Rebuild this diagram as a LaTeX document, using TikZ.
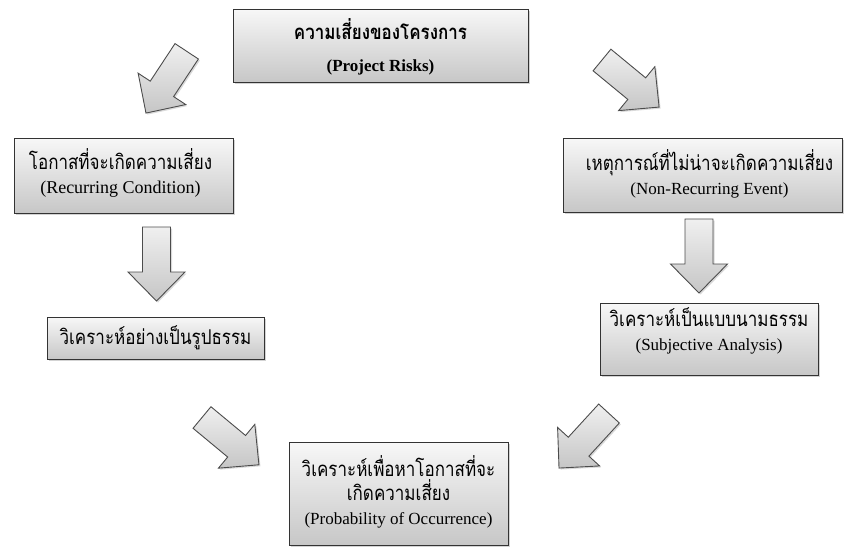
\documentclass[tikz,border=0pt]{standalone}
\usepackage{fontspec}
\usepackage{graphicx}
\setmainfont{Liberation Serif}
\newfontfamily\thaifont[Script=Thai]{Loma}
\newcommand\thtext[1]{{\thaifont\scalebox{1}[1.2]{#1}}}
\usetikzlibrary{shadows}
\begin{document}
\begin{tikzpicture}[x=1pt,y=-1pt,
  box/.style={draw=black!80, line width=1pt, top color=gray!6, bottom color=gray!44,
    drop shadow={opacity=0.35, shadow xshift=2pt, shadow yshift=-2pt}, inner sep=0pt},
  boxtext/.style={align=center, inner sep=0pt, font=\fontsize{17}{24}\selectfont},
  blockarrow/.pic={
    \path[draw=black!70, line width=0.9pt, line join=miter,
      top color=gray!12, bottom color=gray!45,
      drop shadow={opacity=0.3, shadow xshift=1.5pt, shadow yshift=-1.5pt}]
      (0,-14) -- (45,-14) -- (45,-28.5) -- (74,0) -- (45,28.5) -- (45,14) -- (0,14) -- cycle;}
]
\useasboundingbox (0,0) rectangle (845,547);

% boxes
\node[box, minimum width=295, minimum height=73] (risk) at (380.5,45.5) {};
\node[box, minimum width=219, minimum height=75] (recur) at (123.5,175.5) {};
\node[box, minimum width=279, minimum height=74] (nonrecur) at (702.5,175) {};
\node[box, minimum width=217, minimum height=42] (objective) at (155.5,338) {};
\node[box, minimum width=218, minimum height=72] (subjective) at (709,339) {};
\node[box, minimum width=219, minimum height=103] (prob) at (398.5,493.5) {};

% box labels
\node[boxtext] (riskText) at ([yshift=-1pt]risk.center)
  {\textbf{\thtext{\bfseries ความเสี่ยงของโครงการ}}\\[8pt]\textbf{(Project Risks)}};
\node[boxtext] (recurText) at ([xshift=-3pt,yshift=3pt]recur.center)
  {\thtext{โอกาสที่จะเกิดความเสี่ยง}\\{\fontsize{18}{24}\selectfont(Recurring Condition)}};
\node[boxtext] (nonrecurText) at ([xshift=7pt,yshift=1pt]nonrecur.center)
  {\thtext{เหตุการณ์ที่ไม่น่าจะเกิดความเสี่ยง}\\(Non-Recurring Event)};
\node[boxtext] (objectiveText) at (objective.center)
  {\thtext{วิเคราะห์อย่างเป็นรูปธรรม}};
\node[boxtext] (subjectiveText) at ([yshift=8pt]subjective.center)
  {\thtext{วิเคราะห์เป็นแบบนามธรรม}\\(Subjective Analysis)};
\node[boxtext] (probText) at ([yshift=2pt]prob.center)
  {\thtext{วิเคราะห์เพื่อหาโอกาสที่จะ}\\\thtext{เกิดความเสี่ยง}\\(Probability of Occurrence)};

% block arrows (tail points)
\coordinate (riskToRecur) at (186.7,51.3);
\coordinate (riskToNonrecur) at (602,60);
\coordinate (recurToObjective) at (156.5,227);
\coordinate (nonrecurToSubjective) at (699,219);
\coordinate (objectiveToProb) at (202,417.5);
\coordinate (subjectiveToProb) at (609,413.5);

\pic[rotate=-123.4] at (riskToRecur) {blockarrow};
\pic[rotate=-39.5] at (riskToNonrecur) {blockarrow};
\pic[rotate=-90] at (recurToObjective) {blockarrow};
\pic[rotate=-90] at (nonrecurToSubjective) {blockarrow};
\pic[rotate=-39.7] at (objectiveToProb) {blockarrow};
\pic[rotate=-132.5] at (subjectiveToProb) {blockarrow};
\end{tikzpicture}
\end{document}
